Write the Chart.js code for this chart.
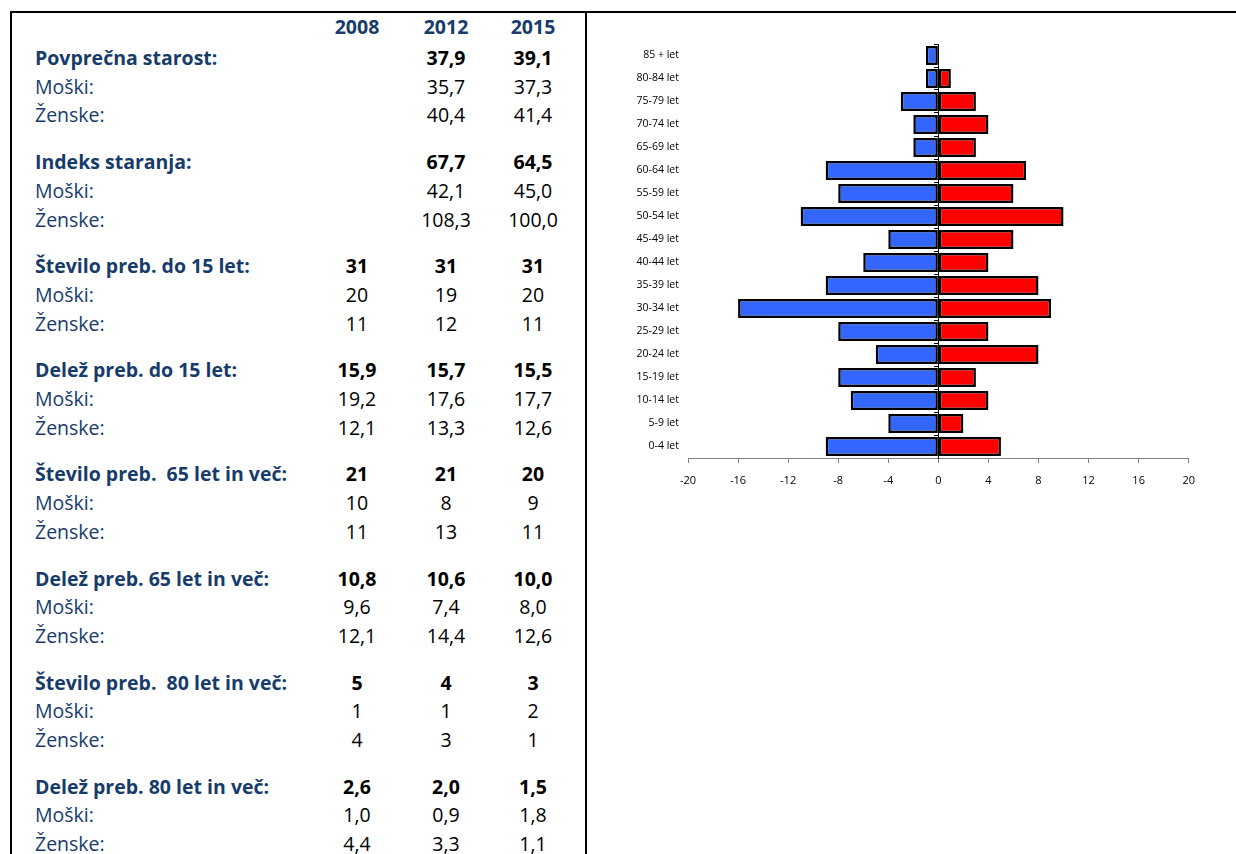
<!DOCTYPE html>
<html>
<head>
<meta charset="utf-8">
<script src="https://cdn.jsdelivr.net/npm/chart.js@4.4.1/dist/chart.umd.min.js"></script>
<style>
  html, body { margin: 0; padding: 0; background: #fff; }
  body { width: 1236px; height: 854px; position: relative; overflow: hidden; font-family: "Open Sans", sans-serif; }
  .frame-top { position: absolute; left: 10px; top: 11px; width: 1226px; height: 2px; background: #000; }
  .frame-left { position: absolute; left: 10px; top: 11px; width: 2px; height: 843px; background: #000; }
  .frame-mid { position: absolute; left: 585px; top: 11px; width: 2px; height: 843px; background: #000; }
  .cell { position: absolute; font-size: 19.5px; line-height: 28px; white-space: pre; }
  .lbl { left: 35px; color: #173c6b; }
  .num { width: 80px; margin-left: -40px; text-align: center; color: #000; }
  .bold { font-weight: bold; }
  .hdr { color: #173c6b; font-weight: bold; }
  #chartBox { position: absolute; left: 600px; top: 30px; width: 606px; height: 480px; }
</style>
</head>
<body>
<div class="frame-top"></div>
<div class="frame-left"></div>
<div class="frame-mid"></div>
<div id="table"></div>
<div id="chartBox"><canvas id="pyramid"></canvas></div>
<script>
// table data
const years = ['2008', '2012', '2015'];
const groupTitles = ['Povprečna starost:', 'Indeks staranja:', 'Število preb. do 15 let:', 'Delež preb. do 15 let:',
    'Število preb.  65 let in več:', 'Delež preb. 65 let in več:', 'Število preb.  80 let in več:', 'Delež preb. 80 let in več:'];
const totals = [['', '37,9', '39,1'], ['', '67,7', '64,5'], ['31', '31', '31'], ['15,9', '15,7', '15,5'],
    ['21', '21', '20'], ['10,8', '10,6', '10,0'], ['5', '4', '3'], ['2,6', '2,0', '1,5']];
const males = [['', '35,7', '37,3'], ['', '42,1', '45,0'], ['20', '19', '20'], ['19,2', '17,6', '17,7'],
    ['10', '8', '9'], ['9,6', '7,4', '8,0'], ['1', '1', '2'], ['1,0', '0,9', '1,8']];
const females = [['', '40,4', '41,4'], ['', '108,3', '100,0'], ['11', '12', '11'], ['12,1', '13,3', '12,6'],
    ['11', '13', '11'], ['12,1', '14,4', '12,6'], ['4', '3', '1'], ['4,4', '3,3', '1,1']];

// chart data
const ageGroups = ['0-4 let', '5-9 let', '10-14 let', '15-19 let', '20-24 let', '25-29 let', '30-34 let', '35-39 let',
    '40-44 let', '45-49 let', '50-54 let', '55-59 let', '60-64 let', '65-69 let', '70-74 let', '75-79 let', '80-84 let', '85 + let'];
const menCounts = [-9, -4, -7, -8, -5, -8, -16, -9, -6, -4, -11, -8, -9, -2, -2, -3, -1, -1];
const womenCounts = [5, 2, 4, 3, 8, 4, 9, 8, 4, 6, 10, 6, 7, 3, 4, 3, 1, 0];
const xTicks = [-20, -16, -12, -8, -4, 0, 4, 8, 12, 16, 20];

// build table
const tableEl = document.getElementById('table');
const colX = [357, 446, 533];
function addCell(text, cls, x, yc) {
    const d = document.createElement('div');
    d.className = 'cell ' + cls;
    d.textContent = text;
    d.style.top = (yc - 14) + 'px';
    if (x !== null) d.style.left = x + 'px';
    tableEl.appendChild(d);
}
years.forEach((y, i) => addCell(y, 'num hdr', colX[i], 27));
groupTitles.forEach((title, g) => {
    const y0 = 58 + g * 104.1;
    addCell(title, 'lbl bold', null, y0);
    addCell('Moški:', 'lbl', null, y0 + 28.7);
    addCell('Ženske:', 'lbl', null, y0 + 57.4);
    for (let c = 0; c < 3; c++) {
        addCell(totals[g][c], 'num bold', colX[c], y0);
        addCell(males[g][c], 'num', colX[c], y0 + 28.7);
        addCell(females[g][c], 'num', colX[c], y0 + 57.4);
    }
});

// pyramid chart
const ctx = document.getElementById('pyramid').getContext('2d');
new Chart(ctx, {
    type: 'bar',
    data: {
        labels: ageGroups,
        datasets: [
            { label: 'Moški', data: menCounts, backgroundColor: '#3366ff', borderColor: '#000', borderWidth: 2.5, borderSkipped: false },
            { label: 'Ženske', data: womenCounts, backgroundColor: '#ff0000', borderColor: '#000', borderWidth: 2.5, borderSkipped: false }
        ]
    },
    options: {
        indexAxis: 'y',
        responsive: true,
        maintainAspectRatio: false,
        animation: false,
        layout: { padding: { top: 14, right: 7, bottom: 18, left: 0 } },
        datasets: { bar: { barPercentage: 0.82, categoryPercentage: 1 } },
        plugins: { legend: { display: false }, tooltip: { enabled: false } },
        scales: {
            x: {
                stacked: true,
                min: -20,
                max: 20,
                afterBuildTicks: scale => { scale.ticks = xTicks.map(v => ({ value: v })); },
                ticks: { color: '#000', font: { family: 'Open Sans', size: 11 }, padding: 11 },
                grid: { drawOnChartArea: false, tickLength: 5, color: '#808080' },
                border: { color: '#808080' },
                afterFit: scale => { scale.height = 34; }
            },
            y: {
                stacked: true,
                reverse: true,
                ticks: { color: '#000', font: { family: 'Open Sans', size: 10.5 }, padding: 1 },
                grid: { display: false },
                border: { display: false },
                afterFit: scale => { scale.width = 88; }
            },
            y2: {
                type: 'category',
                labels: ageGroups,
                reverse: true,
                position: { x: 0 },
                ticks: { display: false },
                grid: { drawOnChartArea: false, offset: true, tickLength: 4, color: '#000' },
                border: { display: true, color: '#000', width: 1 }
            }
        }
    }
});
</script>
</body>
</html>
